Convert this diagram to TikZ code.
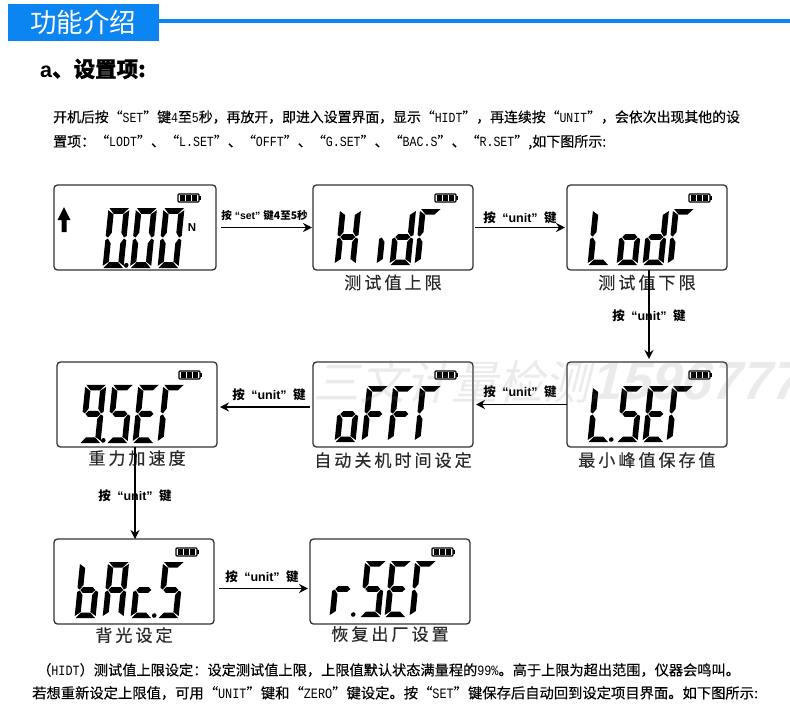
\documentclass[tikz,border=0pt]{standalone}
\usepackage{fontspec}
\setmainfont{Liberation Sans}
\newfontfamily\cjk{Noto Sans CJK SC}
\newfontfamily\parafont[FakeBold=0.35]{Noto Sans CJK SC}
\newfontfamily\capfont[LetterSpace=18,FakeBold=0.35]{Noto Sans CJK SC}
\newfontfamily\hanmono[FakeStretch=0.83]{Liberation Mono}
\usetikzlibrary{arrows.meta,positioning}
\definecolor{hdrBlue}{HTML}{0A85F2}
\definecolor{lcdLine}{HTML}{333333}
\definecolor{capGray}{HTML}{2A2A2A}
\newcommand{\fsz}[1]{\fontsize{#1}{#1}\selectfont}
\newcommand{\mn}[1]{{\hanmono #1}}
\newcommand{\unitkey}{{\cjk\bfseries 按}\hspace{6.5pt}“unit”\hspace{6.5pt}{\cjk\bfseries 键}}
% seven segments, origin at the lower left of a glyph
\newcommand{\sega}{\fill (0.5,-56) -- (20,-56) -- (14.5,-50.5) -- (5.5,-50.5) -- cycle;}
\newcommand{\segb}{\fill (20.5,-54) -- (20.5,-30) -- (18,-28.5) -- (14.8,-33) -- (14.8,-50) -- cycle;}
\newcommand{\segc}{\fill (20.5,-26) -- (20.5,-2) -- (14.8,-6) -- (14.8,-23) -- (18,-27.5) -- cycle;}
\newcommand{\segd}{\fill (0.5,0) -- (20,0) -- (14.5,-5.5) -- (5.5,-5.5) -- cycle;}
\newcommand{\sege}{\fill (-0.5,-26) -- (-0.5,-2) -- (5.2,-6) -- (5.2,-23) -- (2,-27.5) -- cycle;}
\newcommand{\segf}{\fill (-0.5,-54) -- (-0.5,-30) -- (2,-28.5) -- (5.2,-33) -- (5.2,-50) -- cycle;}
\newcommand{\segg}{\fill (2.5,-28) -- (5.2,-30.8) -- (14.8,-30.8) -- (17.5,-28) -- (14.8,-25.2) -- (5.2,-25.2) -- cycle;}
\newcommand{\segp}{\fill (23,-2.5) circle (2.3);}
\newcommand{\lcdrow}[3][1]{%
  \foreach \cx/\cs in {#3} {
    \begin{scope}[shift={(\cx,#2)},xslant=0.1,yscale=#1,fill=black]
      \edef\seglist{\cs}
      \foreach \sg in \seglist {\csname seg\sg\endcsname}
    \end{scope}
  }}
\tikzset{
  >=Stealth,
  lcd/.style={rectangle,draw=lcdLine,line width=1.3pt,rounded corners=3.5pt,outer sep=0pt,inner sep=0pt,minimum width=160pt,minimum height=85pt},
  capt/.style={font=\capfont\fsz{17},text=capGray,inner sep=0pt},
  flow/.style={-{Stealth[length=9pt,width=9pt]},line width=1.7pt,black},
  keylab/.style={font=\bfseries\fsz{12.5},inner sep=0pt},
  para/.style={anchor=west,inner sep=0pt,font=\parafont\fsz{14},text=black},
  battery/.pic={
    \draw[line width=1.1pt,rounded corners=1pt] (0,0) rectangle (21,8);
    \fill (21,2.3) rectangle (23.2,5.7);
    \foreach \bx in {2.3,8.3,14.3} \fill (\bx,1.3) rectangle ++(5,5.4);
  },
}
\begin{document}
\begin{tikzpicture}[x=1pt,y=-1pt]
  \useasboundingbox (0,0) rectangle (790,710);

  % header
  \node[rectangle,fill=hdrBlue,text=white,font=\cjk\fsz{26.5},anchor=north west,minimum width=151pt,minimum height=37pt,inner sep=0pt,outer sep=0pt] (hdr) at (8,4) {功能介绍};
  \coordinate (hdrend) at (790,20.5);
  \draw[hdrBlue,line width=4pt] (hdr.east |- hdrend) -- (hdrend);
  \node[anchor=west,inner sep=0pt,font=\bfseries\fsz{21.5}] (sect) at (40,69) {a{\cjk\bfseries\addfontfeature{FakeBold=0.8} 、设置项:}};

  \node[para,font=\parafont\fsz{13.88}] (introa) at (53,117) {开机后按“\mn{SET}”键\mn{4}至\mn{5}秒，再放开，即进入设置界面，显示“\mn{HIDT}”，再连续按“\mn{UNIT}”，会依次出现其他的设};
  \node[para] (introb) at (53,142) {置项：“\mn{LODT}”、“\mn{L.SET}”、“\mn{OFFT}”、“\mn{G.SET}”、“\mn{BAC.S}”、“\mn{R.SET}”,如下图所示:};

  % screens
  \node[lcd,anchor=north west,minimum width=162pt] (lcda) at (54,185) {};
  \node[lcd,right=97pt of lcda] (lcdb) {};
  \node[lcd,right=94pt of lcdb] (lcdc) {};
  \node[lcd,below=92pt of lcdc] (lcdd) {};
  \node[lcd,left=94pt of lcdd] (lcde) {};
  \node[lcd,left=96pt of lcde] (lcdf) {};
  \node[lcd,below=92pt of lcdf,xshift=-3pt] (lcdg) {};
  \node[lcd,right=96pt of lcdg] (lcdh) {};

  \foreach \scr in {lcda,lcdb,lcdc,lcdd,lcde,lcdf,lcdg,lcdh}
    \pic at ([xshift=-38pt,yshift=-9pt]\scr.north east) {battery};

  % up arrow and unit on the first screen
  \fill[black] (64,207) -- (70.5,220) -- (66.5,220) -- (66.5,232) -- (61.5,232) -- (61.5,220) -- (57.5,220) -- cycle;
  \node[font=\bfseries\fsz{11.5},inner sep=0pt] (unitn) at (192,228) {N};

  % glyphs
  \lcdrow[1.07]{268}{103/{a,b,c,d,e,f,p},130.5/{a,b,c,d,e,f},158/{a,b,c,d,e,f}}
  \lcdrow{265}{335/{b,c,e,f,g},377/{e},390/{b,c,d,e,g},415/{a,e,f}}
  \lcdrow{265}{588/{d,e,f},617/{c,d,e,g},643/{b,c,d,e,g},668/{a,e,f}}
  \lcdrow{442}{588/{d,e,f,p},617/{a,c,d,f,g},643/{a,d,e,f,g},667/{a,e,f}}
  \lcdrow{442}{335/{c,d,e,g},362/{a,e,f,g},388/{a,e,f,g},415/{a,e,f}}
  \lcdrow[1.04]{443}{80/{a,b,c,d,f,g,p},107/{a,c,d,f,g},133/{a,d,e,f,g},158/{a,e,f}}
  \lcdrow{618}{75/{c,d,e,f,g},103/{a,b,c,e,f,g},131/{d,e,g,p},158/{a,c,d,f,g}}
  \lcdrow{617}{330/{e,g,p},360/{a,c,d,f,g},385/{a,d,e,f,g},410/{a,e,f}}

  % captions
  \node[capt,below=4.5pt of lcdb] (capb) {测试值上限};
  \node[capt,below=4.5pt of lcdc] (capc) {测试值下限};
  \node[capt,below=5pt of lcdd] (capd) {最小峰值保存值};
  \node[capt,below=5pt of lcde] (cape) {自动关机时间设定};
  \node[capt,below=3pt of lcdf] (capf) {重力加速度};
  \node[capt,below=3pt of lcdg] (capg) {背光设定};
  \node[capt,below=2pt of lcdh] (caph) {恢复出厂设置};

  % flow
  \draw[flow,shorten <=5pt,shorten >=1pt] (lcda) -- (lcdb) node[midway,above=6pt,font=\bfseries\fsz{10.5},inner sep=0pt] (keya) {{\cjk\bfseries 按}~“set”~{\cjk\bfseries 键4至5秒}};
  \draw[flow,shorten <=2pt,shorten >=2pt] (lcdb) -- (lcdc) node[midway,above=3pt,keylab] (keyb) {\unitkey};
  \draw[flow,shorten >=3pt] ([xshift=2pt]lcdc.south) -- ([xshift=2pt]lcdd.north) node[midway,keylab] (keyc) {\unitkey};
  \draw[flow,shorten >=3pt] (lcdd) -- (lcde) node[midway,above=6pt,keylab] (keyd) {\unitkey};
  \draw[flow,shorten <=3pt,shorten >=3pt] ([yshift=-2.5pt]lcde.west) -- ([yshift=-2.5pt]lcdf.east) node[midway,above=5pt,xshift=4pt,keylab] (keye) {\unitkey};
  \draw[flow] ([xshift=-2pt]lcdf.south) -- ([xshift=1pt]lcdg.north) node[pos=.53,keylab] (keyf) {\unitkey};
  \draw[flow,shorten <=5pt,shorten >=2pt] ([yshift=-7pt]lcdg.east) -- ([yshift=-7pt]lcdh.west) node[midway,above=5pt,keylab] (keyg) {\unitkey};

  % notes below
  \node[para,font=\parafont\fsz{14.2}] (notea) at (37,670) {（\mn{HIDT}）测试值上限设定：设定测试值上限，上限值默认状态满量程的\mn{99\%}。高于上限为超出范围，仪器会鸣叫。};
  \node[para,font=\parafont\fsz{14.3}] (noteb) at (32,693) {若想重新设定上限值，可用“\mn{UNIT}”键和“\mn{ZERO}”键设定。按“\mn{SET}”键保存后自动回到设定项目界面。如下图所示:};

  % watermark
  \begin{scope}
    \clip (0,0) rectangle (790,710);
    \node[anchor=west,xslant=0.25,transform shape,inner sep=0pt,text=gray,opacity=.16,font=\bfseries\fsz{54}] (wmark) at (318,382) {{\cjk\mdseries\fsz{46}三文计量检测}1596777};
  \end{scope}
\end{tikzpicture}
\end{document}
